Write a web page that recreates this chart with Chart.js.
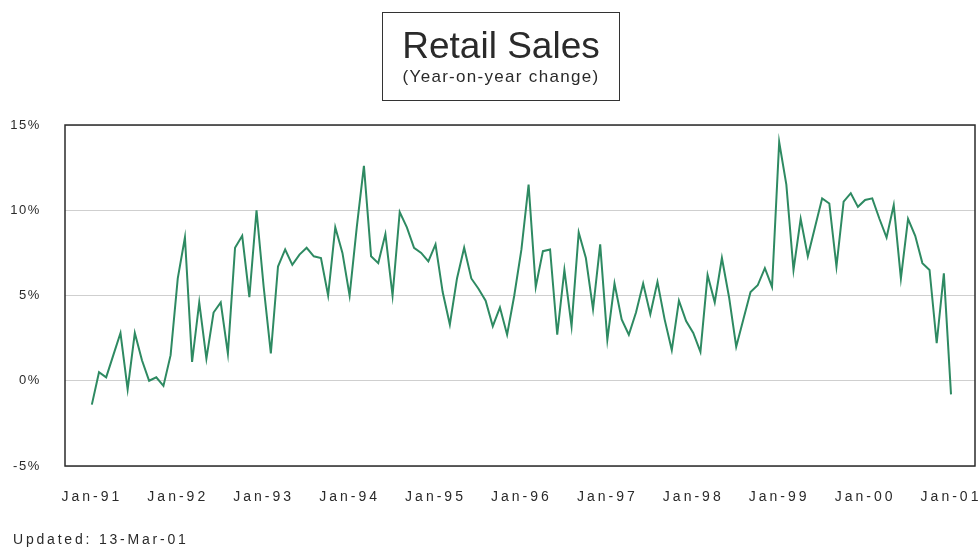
<!DOCTYPE html>
<html>
<head>
<meta charset="utf-8">
<script src="https://cdn.jsdelivr.net/npm/chart.js@4/dist/chart.umd.min.js"></script>
<style>
  html, body { margin: 0; padding: 0; background: #fff; }
  #wrap { position: relative; width: 978px; height: 550px; overflow: hidden; }
  #c { position: absolute; left: 0; top: 0; }
  #titlebox {
    position: absolute; left: 382px; top: 12px; width: 236px; height: 87px;
    border: 1.5px solid #333; box-sizing: content-box; text-align: center;
    font-family: "Liberation Sans", Arial, sans-serif; color: #2a2a2a;
  }
  #t1 { position: absolute; left: 0; right: 0; top: 13px; font-size: 37px; line-height: 40px; }
  #t2 { position: absolute; left: 0; right: 0; top: 54px; font-size: 17px; line-height: 20px; letter-spacing: 1.3px; }
  #upd {
    position: absolute; left: 13px; top: 531px; font-family: "Liberation Sans", Arial, sans-serif;
    font-size: 14px; line-height: 16px; letter-spacing: 2.8px; color: #2a2a2a;
  }
</style>
</head>
<body>
<div id="wrap">
  <canvas id="c" width="978" height="550"></canvas>
  <div id="titlebox"><div id="t1">Retail Sales</div><div id="t2">(Year-on-year change)</div></div>
  <div id="upd">Updated: 13-Mar-01</div>
</div>
<script>
// Year tick labels (January of each year)
const yearTicks = ['Jan-91','Jan-92','Jan-93','Jan-94','Jan-95','Jan-96','Jan-97','Jan-98','Jan-99','Jan-00','Jan-01'];
const yTicks = [-5, 0, 5, 10, 15];

// Monthly year-on-year change in retail sales (%), Jan-91 .. Jan-01
const retailYoY = [
  -1.4, 0.5, 0.2, 1.5, 2.8, -0.5, 2.8, 1.2, 0.0, 0.2, -0.3, 1.5,
  6.0, 8.4, 1.1, 4.6, 1.3, 4.0, 4.6, 1.6, 7.8, 8.5, 4.9, 10.0,
  5.5, 1.6, 6.7, 7.7, 6.8, 7.4, 7.8, 7.3, 7.2, 5.0, 9.0, 7.5,
  5.0, 9.0, 12.6, 7.3, 6.9, 8.6, 5.0, 9.9, 9.0, 7.8, 7.5, 7.0,
  8.0, 5.2, 3.3, 6.0, 7.8, 6.0, 5.4, 4.7, 3.2, 4.3, 2.7, 5.0,
  7.7, 11.5, 5.5, 7.6, 7.7, 2.7, 6.5, 3.2, 8.7, 7.2, 4.2, 8.0,
  2.4, 5.7, 3.6, 2.7, 4.0, 5.7, 3.9, 5.8, 3.6, 1.8, 4.7, 3.5,
  2.8, 1.7, 6.2, 4.6, 7.2, 4.9, 2.0, 3.6, 5.2, 5.6, 6.6, 5.5,
  14.0, 11.5, 6.5, 9.5, 7.3, 9.0, 10.7, 10.4, 6.7, 10.5, 11.0, 10.2,
  10.6, 10.7, 9.5, 8.4, 10.3, 6.0, 9.5, 8.5, 6.9, 6.5, 2.2, 6.3,
  -0.8
];

const spacingPlugin = {
  id: 'spacing',
  afterUpdate(chart) {
    const ctx = chart.ctx;
    [['x', '3px'], ['y', '1.6px']].forEach(([id, sp]) => {
      const s = chart.scales[id];
      if (s && !s._spWrapped) {
        const orig = s.drawLabels.bind(s);
        s.drawLabels = function (area) {
          ctx.save();
          ctx.letterSpacing = sp;
          orig(area);
          ctx.restore();
        };
        s._spWrapped = true;
      }
    });
  }
};
const framePlugin = {
  id: 'frame',
  beforeDatasetsDraw(chart) {
    const a = chart.chartArea, ctx = chart.ctx;
    ctx.save();
    ctx.strokeStyle = '#2b2b2b';
    ctx.lineWidth = 1.5;
    ctx.strokeRect(a.left, a.top, a.right - a.left, a.bottom - a.top);
    ctx.restore();
  }
};

new Chart(document.getElementById('c'), {
  type: 'line',
  data: {
    datasets: [{
      data: retailYoY.map((v, i) => ({ x: i, y: v })),
      borderColor: '#2e8a62',
      borderWidth: 2,
      pointRadius: 0,
      tension: 0,
      fill: false
    }]
  },
  options: {
    responsive: false,
    animation: false,
    events: [],
    layout: { padding: { left: 0, right: 3, top: 125, bottom: 0 } },
    plugins: { legend: { display: false }, tooltip: { enabled: false } },
    scales: {
      x: {
        type: 'linear',
        min: -3.75,
        max: 123.35,
        afterBuildTicks: (s) => { s.ticks = yearTicks.map((_, k) => ({ value: k * 12 })); },
        afterFit: (s) => { s.height = 84; s.paddingLeft = 0; s.paddingRight = 0; },
        ticks: {
          autoSkip: false,
          maxRotation: 0,
          padding: 23,
          color: '#2a2a2a',
          font: { family: '"Liberation Sans", Arial, sans-serif', size: 14 },
          callback: (v, i) => yearTicks[i]
        },
        grid: { display: false, drawTicks: false },
        border: { display: false }
      },
      y: {
        min: -5,
        max: 15,
        afterBuildTicks: (s) => { s.ticks = yTicks.map(v => ({ value: v })); },
        afterFit: (s) => { s.width = 65; s.paddingTop = 0; s.paddingBottom = 0; },
        ticks: {
          padding: 24,
          color: '#2a2a2a',
          font: { family: '"Liberation Sans", Arial, sans-serif', size: 13 },
          callback: (v) => v + '%'
        },
        grid: { color: '#cfcfcf', lineWidth: 1, drawTicks: false },
        border: { display: false }
      }
    }
  },
  plugins: [spacingPlugin, framePlugin]
});
</script>
</body>
</html>
